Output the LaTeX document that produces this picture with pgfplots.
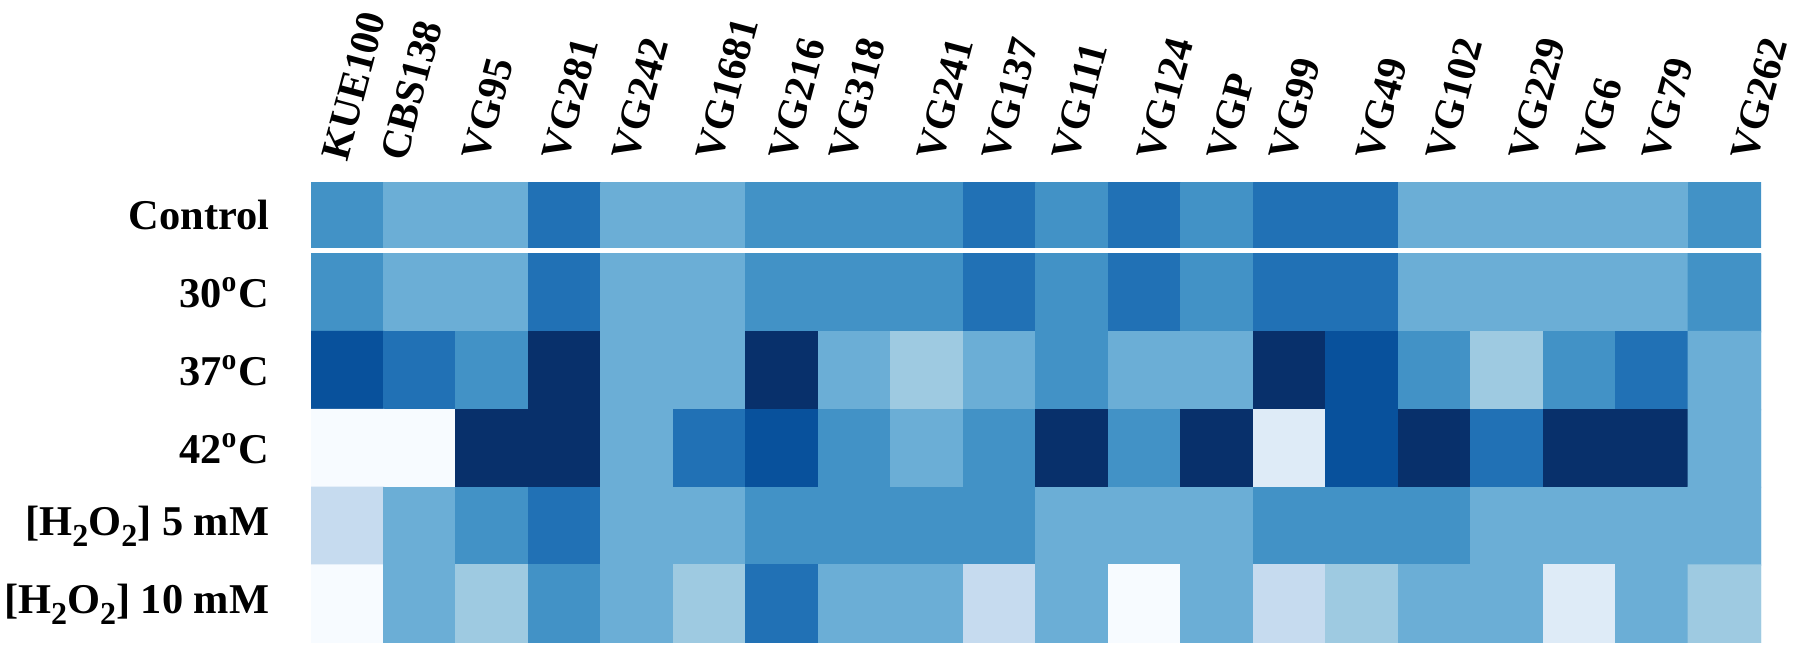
\documentclass[border=0pt]{standalone}
\usepackage{pgfplots}
\pgfplotsset{compat=1.18}
\usepgfplotslibrary{patchplots}
\usepackage{fontspec}
\setmainfont{Liberation Serif}
\newcommand\subtwo{\raisebox{-2.6pt}{\fontsize{8}{9}\selectfont 2}}
\begin{document}
\begin{tikzpicture}
\pgfplotsset{
  colormap={myblues}{rgb255=(247,251,255) rgb255=(222,235,247) rgb255=(198,219,239) rgb255=(158,202,225) rgb255=(107,174,214) rgb255=(66,146,198) rgb255=(33,113,181) rgb255=(8,81,156) rgb255=(8,48,107)},
  hm/.style={scale only axis, width=362.5pt, xmin=-0.5, xmax=19.5, enlargelimits=false,
    axis line style={draw=none}, major tick length=0pt, tick style={draw=none},
    point meta min=0, point meta max=8, colormap name=myblues, y dir=reverse,
    yticklabel style={font=\fontsize{10.6}{13}\selectfont\bfseries, anchor=east, inner sep=0pt, xshift=-10.25pt}},
}
\path[use as bounding box] (0,0) rectangle (450pt,162.5pt);
\begin{axis}[hm, at={(77.75pt,100.5pt)}, anchor=south west, height=16.25pt,
  ymin=-0.5, ymax=0.5, ytick={0}, yticklabels={Control},
  xtick={-0.004,0.810,1.927,3.031,3.996,5.155,6.162,6.989,8.203,9.100,10.065,11.238,12.203,13.058,14.258,15.224,16.369,17.293,18.203,19.431},
  xticklabels={KUE100,CBS138,VG95,VG281,VG242,VG1681,VG216,VG318,VG241,VG137,VG111,VG124,VGP,VG99,VG49,VG102,VG229,VG6,VG79,VG262},
  xticklabel pos=upper, xticklabel shift={5pt},
  xticklabel style={font=\fontsize{10.3}{12}\selectfont\bfseries, rotate=75, anchor=base west, inner sep=0pt}]
% control row: one rectangle per cell (four corners, same value)
\addplot[patch, patch type=rectangle, shader=flat, point meta=explicit] table[meta=c] {
x y c
-0.5 -0.5 5
0.5 -0.5 5
0.5 0.5 5
-0.5 0.5 5
0.5 -0.5 4
1.5 -0.5 4
1.5 0.5 4
0.5 0.5 4
1.5 -0.5 4
2.5 -0.5 4
2.5 0.5 4
1.5 0.5 4
2.5 -0.5 6
3.5 -0.5 6
3.5 0.5 6
2.5 0.5 6
3.5 -0.5 4
4.5 -0.5 4
4.5 0.5 4
3.5 0.5 4
4.5 -0.5 4
5.5 -0.5 4
5.5 0.5 4
4.5 0.5 4
5.5 -0.5 5
6.5 -0.5 5
6.5 0.5 5
5.5 0.5 5
6.5 -0.5 5
7.5 -0.5 5
7.5 0.5 5
6.5 0.5 5
7.5 -0.5 5
8.5 -0.5 5
8.5 0.5 5
7.5 0.5 5
8.5 -0.5 6
9.5 -0.5 6
9.5 0.5 6
8.5 0.5 6
9.5 -0.5 5
10.5 -0.5 5
10.5 0.5 5
9.5 0.5 5
10.5 -0.5 6
11.5 -0.5 6
11.5 0.5 6
10.5 0.5 6
11.5 -0.5 5
12.5 -0.5 5
12.5 0.5 5
11.5 0.5 5
12.5 -0.5 6
13.5 -0.5 6
13.5 0.5 6
12.5 0.5 6
13.5 -0.5 6
14.5 -0.5 6
14.5 0.5 6
13.5 0.5 6
14.5 -0.5 4
15.5 -0.5 4
15.5 0.5 4
14.5 0.5 4
15.5 -0.5 4
16.5 -0.5 4
16.5 0.5 4
15.5 0.5 4
16.5 -0.5 4
17.5 -0.5 4
17.5 0.5 4
16.5 0.5 4
17.5 -0.5 4
18.5 -0.5 4
18.5 0.5 4
17.5 0.5 4
18.5 -0.5 5
19.5 -0.5 5
19.5 0.5 5
18.5 0.5 5
};
\end{axis}
\begin{axis}[hm, at={(77.75pt,1.75pt)}, anchor=south west, height=97.25pt,
  ymin=-0.5, ymax=4.5, ytick={0,1,2,3,4},
  yticklabels={30\textsuperscript{o}C,37\textsuperscript{o}C,42\textsuperscript{o}C,{[H\subtwo O\subtwo] 5 mM},{[H\subtwo O\subtwo] 10 mM}},
  xtick=\empty]
\addplot[matrix plot*, mesh/cols=20, point meta=explicit] table[meta=c] {
x y c
0 0 5
1 0 4
2 0 4
3 0 6
4 0 4
5 0 4
6 0 5
7 0 5
8 0 5
9 0 6
10 0 5
11 0 6
12 0 5
13 0 6
14 0 6
15 0 4
16 0 4
17 0 4
18 0 4
19 0 5
0 1 7
1 1 6
2 1 5
3 1 8
4 1 4
5 1 4
6 1 8
7 1 4
8 1 3
9 1 4
10 1 5
11 1 4
12 1 4
13 1 8
14 1 7
15 1 5
16 1 3
17 1 5
18 1 6
19 1 4
0 2 0
1 2 0
2 2 8
3 2 8
4 2 4
5 2 6
6 2 7
7 2 5
8 2 4
9 2 5
10 2 8
11 2 5
12 2 8
13 2 1
14 2 7
15 2 8
16 2 6
17 2 8
18 2 8
19 2 4
0 3 2
1 3 4
2 3 5
3 3 6
4 3 4
5 3 4
6 3 5
7 3 5
8 3 5
9 3 5
10 3 4
11 3 4
12 3 4
13 3 5
14 3 5
15 3 5
16 3 4
17 3 4
18 3 4
19 3 4
0 4 0
1 4 4
2 4 3
3 4 5
4 4 4
5 4 3
6 4 6
7 4 4
8 4 4
9 4 2
10 4 4
11 4 0
12 4 4
13 4 2
14 4 3
15 4 4
16 4 4
17 4 1
18 4 4
19 4 3
};
\end{axis}
\end{tikzpicture}
\end{document}
